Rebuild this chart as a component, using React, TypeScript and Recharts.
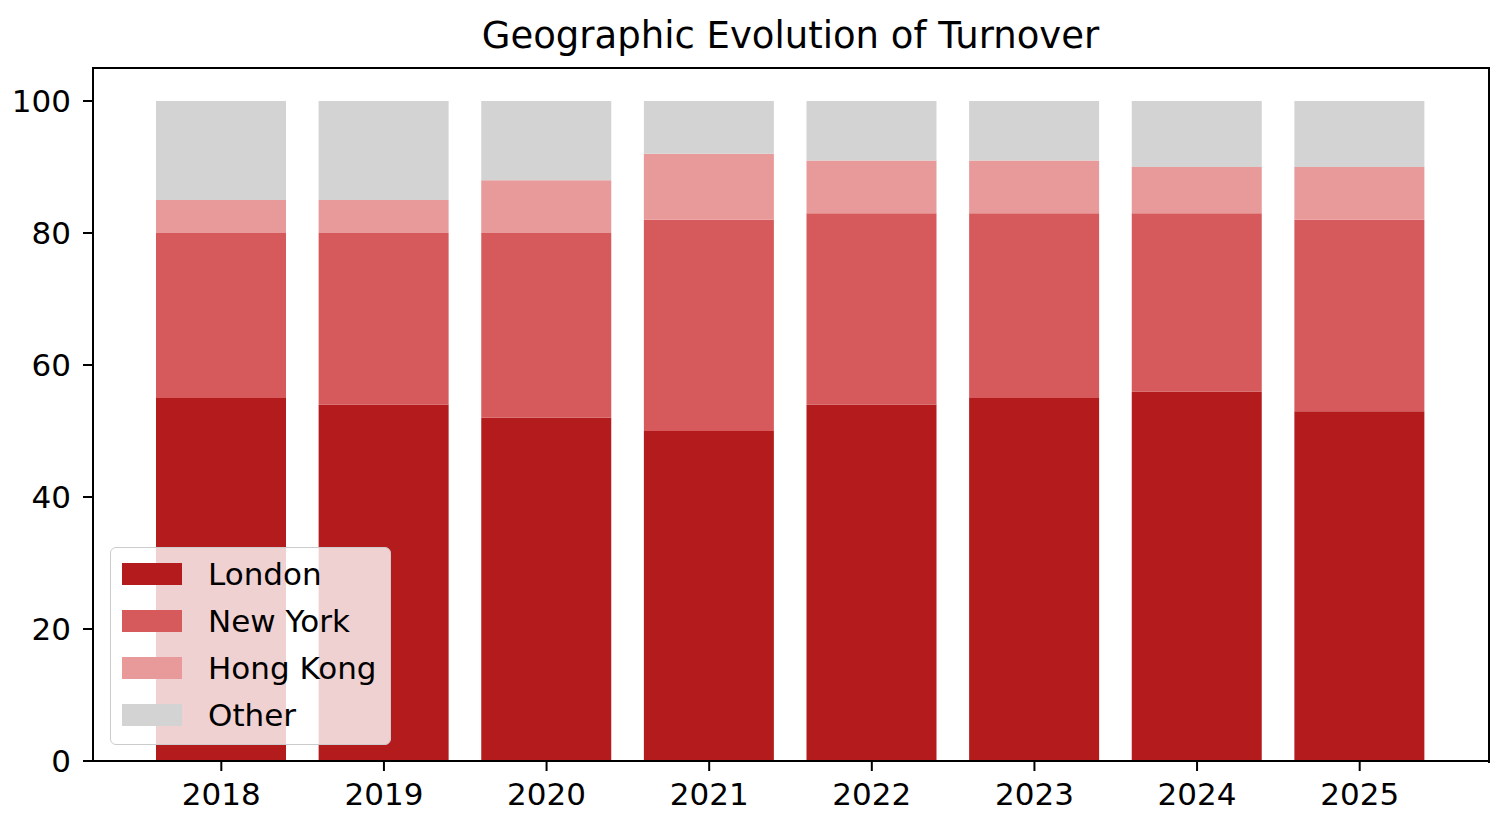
import { Bar, BarChart, XAxis, YAxis } from "recharts";

const years = ["2018", "2019", "2020", "2021", "2022", "2023", "2024", "2025"];
const london = [55, 54, 52, 50, 54, 55, 56, 53];
const newYork = [25, 26, 28, 32, 29, 28, 27, 29];
const hongKong = [5, 5, 8, 10, 8, 8, 7, 8];
const other = [15, 15, 12, 8, 9, 9, 10, 10];
const yTicks = [0, 20, 40, 60, 80, 100];

const series = [
  { key: "london", name: "London", color: "#b31b1c" },
  { key: "newYork", name: "New York", color: "#d65a5b" },
  { key: "hongKong", name: "Hong Kong", color: "#e89999" },
  { key: "other", name: "Other", color: "#d3d3d3" },
];

const chartData = years.map((year, i) => ({
  year,
  london: london[i],
  newYork: newYork[i],
  hongKong: hongKong[i],
  other: other[i],
}));

const FONT = "'DejaVu Sans', sans-serif";

// plot box, matches the chart margins below
const PLOT = { left: 93, top: 68, right: 1488, bottom: 761 };

function LegendBox() {
  return (
    <div
      style={{
        position: "absolute",
        left: 110,
        top: 547,
        width: 281,
        height: 198,
        background: "rgba(255,255,255,0.8)",
        border: "1px solid #cccccc",
        borderRadius: 6,
        boxSizing: "border-box",
        paddingTop: 2,
        paddingLeft: 11,
        fontFamily: FONT,
        fontSize: 31,
        color: "#000",
      }}
    >
      {series.map((s) => (
        <div key={s.key} style={{ display: "flex", alignItems: "center", height: 47 }}>
          <div style={{ width: 60, height: 22, background: s.color, marginRight: 26 }} />
          <span>{s.name}</span>
        </div>
      ))}
    </div>
  );
}

export default function App() {
  return (
    <div style={{ position: "absolute", left: 0, top: 0, width: 1498, height: 822, background: "#fff" }}>
      <div
        style={{
          position: "absolute",
          left: PLOT.left,
          width: PLOT.right - PLOT.left,
          top: 14,
          textAlign: "center",
          fontFamily: FONT,
          fontSize: 37,
          color: "#000",
        }}
      >
        Geographic Evolution of Turnover
      </div>
      <BarChart
        width={1498}
        height={822}
        data={chartData}
        margin={{ top: PLOT.top, right: 1498 - PLOT.right, left: 0, bottom: 0 }}
        barSize={130}
      >
        <XAxis
          dataKey="year"
          height={822 - PLOT.bottom}
          padding={{ left: 47, right: 47 }}
          tickSize={10}
          tickMargin={12}
          stroke="#000"
          strokeWidth={2}
          tick={{ fill: "#000", fontSize: 31, fontFamily: FONT }}
        />
        <YAxis
          width={PLOT.left}
          domain={[0, 105]}
          ticks={yTicks}
          tickSize={10}
          tickMargin={12}
          stroke="#000"
          strokeWidth={2}
          tick={{ fill: "#000", fontSize: 31, fontFamily: FONT }}
        />
        {series.map((s) => (
          <Bar
            key={s.key}
            dataKey={s.key}
            name={s.name}
            stackId="a"
            fill={s.color}
            isAnimationActive={false}
          />
        ))}
      </BarChart>
      {/* top and right spines */}
      <div
        style={{
          position: "absolute",
          left: PLOT.left - 1,
          top: PLOT.top - 1,
          width: PLOT.right - PLOT.left + 1,
          height: PLOT.bottom - PLOT.top + 1,
          borderTop: "2px solid #000",
          borderRight: "2px solid #000",
          pointerEvents: "none",
        }}
      />
      <LegendBox />
    </div>
  );
}
